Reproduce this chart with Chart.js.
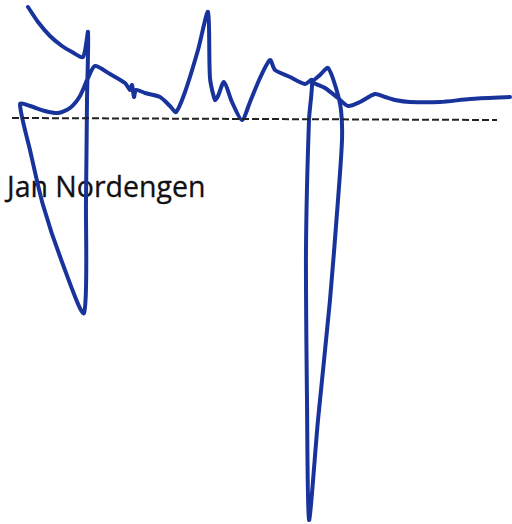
<!DOCTYPE html>
<html>
<head>
<meta charset="utf-8">
<script src="https://cdn.jsdelivr.net/npm/chart.js@4"></script>
<style>
  html, body { margin: 0; padding: 0; background: #fff; }
  #wrap { position: relative; width: 512px; height: 524px; }
  #label {
    position: absolute; left: 7px; top: 167px;
    font-family: 'Open Sans', sans-serif; font-size: 28.5px; color: #111;
    white-space: nowrap; z-index: 0; -webkit-text-stroke: 0.3px #111;
  }
  canvas { position: absolute; left: 0; top: 0; z-index: 1; }
</style>
</head>
<body>
<div id="wrap">
  <div id="label">Jan Nordengen</div>
  <canvas id="chart" width="512" height="524"></canvas>
</div>
<script>
// hand-drawn trace (x to the right, y downwards)
const traceX = [28, 38, 50, 62, 72, 83, 88, 87, 86, 84,
  62, 43, 30, 20,
  30, 45, 58, 70, 80, 88, 95,
  110, 125, 130, 132, 134, 136, 145, 160, 170, 176, 185, 198, 208,
  210, 215, 218, 224, 232, 242, 250, 260, 270, 275, 290, 305, 312,
  309, 306, 307, 309,
  318, 330, 338, 342, 341, 336, 328, 320, 313,
  325, 338, 348, 360, 375, 385, 395, 410, 440, 470, 510];
const traceY = [7, 22, 36, 46, 52, 57, 32, 100, 200, 313,
  262, 205, 150, 104,
  106, 111, 113, 108, 96, 78, 66,
  74, 83, 90, 85, 97, 90, 93, 97, 106, 112, 92, 50, 12,
  78, 100, 96, 82, 102, 120, 102, 78, 60, 70, 77, 84, 80,
  120, 250, 400, 520,
  420, 300, 200, 140, 110, 88, 68, 75, 82,
  88, 98, 106, 102, 94, 97, 100, 102, 102, 99, 97];

// dashed reference line
const refX = [12, 497];
const refY = [118, 120];

const trace = traceX.map((x, i) => ({ x, y: traceY[i] }));
const ref = refX.map((x, i) => ({ x, y: refY[i] }));

new Chart(document.getElementById('chart'), {
  type: 'scatter',
  data: {
    datasets: [
      {
        data: ref,
        showLine: true,
        borderColor: '#222',
        borderWidth: 2,
        borderDash: [7, 3],
        pointRadius: 0
      },
      {
        data: trace,
        showLine: true,
        borderColor: '#18339c',
        borderWidth: 4,
        tension: 0.25,
        pointRadius: 0,
        borderCapStyle: 'round',
        borderJoinStyle: 'round'
      }
    ]
  },
  options: {
    responsive: false,
    animation: false,
    layout: { padding: 0 },
    plugins: { legend: { display: false }, tooltip: { enabled: false } },
    scales: {
      x: { type: 'linear', min: 0, max: 512, display: false },
      y: { type: 'linear', min: 0, max: 524, reverse: true, display: false }
    }
  }
});
</script>
</body>
</html>
